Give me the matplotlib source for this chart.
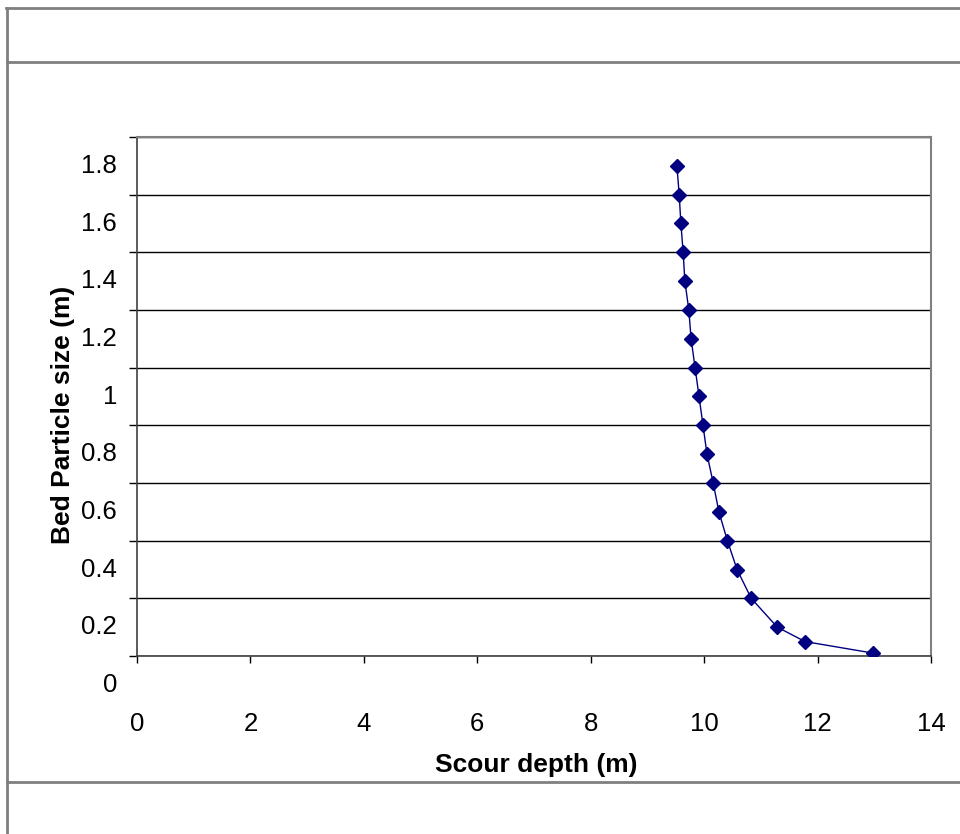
import matplotlib
matplotlib.use('Agg')

import matplotlib.pyplot as plt
from matplotlib.lines import Line2D
from matplotlib.transforms import ScaledTranslation, blended_transform_factory

# --- data ---
bed_particle_size = [1.7, 1.6, 1.5, 1.4, 1.3, 1.2, 1.1, 1.0, 0.9, 0.8,
                     0.7, 0.6, 0.5, 0.4, 0.3, 0.2, 0.1, 0.05, 0.01]
scour_depth = [9.52, 9.56, 9.59, 9.63, 9.66, 9.73, 9.77, 9.84, 9.91, 9.98,
               10.05, 10.16, 10.26, 10.41, 10.58, 10.83, 11.29, 11.78, 12.98]
x_ticks = [0, 2, 4, 6, 8, 10, 12, 14]
y_ticks = [0, 0.2, 0.4, 0.6, 0.8, 1.0, 1.2, 1.4, 1.6, 1.8]
y_tick_labels = ['0', '0.2', '0.4', '0.6', '0.8', '1', '1.2', '1.4', '1.6', '1.8']

plt.rcParams['font.family'] = ['Liberation Sans', 'DejaVu Sans']

W, H = 960, 834
fig = plt.figure(figsize=(W / 100, H / 100), dpi=100)

# outer chart frame (Excel style)
frame = '#808080'
for x0, y0, x1, y1 in [(6, 8, 960, 8), (7, 62, 960, 62), (7, 782, 960, 782), (7, 8, 7, 834)]:
    fig.add_artist(Line2D([x0 / W, x1 / W], [1 - y0 / H, 1 - y1 / H],
                          color=frame, lw=2, transform=fig.transFigure))

ax = fig.add_axes([137 / W, 1 - 656 / H, 794 / W, 519 / H])

ax.plot(scour_depth, bed_particle_size, color='#000080', lw=1,
        marker='D', markersize=7, markerfacecolor='#000080',
        markeredgecolor='#000080', zorder=3)

ax.set_xlim(0, 14)
ax.set_ylim(0, 1.8)
ax.set_xticks(x_ticks)
ax.set_xticklabels([str(t) for t in x_ticks])
ax.set_yticks(y_ticks)
ax.set_yticklabels([])

ax.grid(axis='y', color='black', lw=1)
ax.set_axisbelow(True)

for side in ['top', 'right']:
    ax.spines[side].set_color('#808080')
    ax.spines[side].set_linewidth(1.5)
for side in ['left', 'bottom']:
    ax.spines[side].set_color('#404040')
    ax.spines[side].set_linewidth(1.2)

ax.tick_params(axis='x', direction='out', length=5, width=1, pad=35,
               labelsize=18.5, colors='black')
ax.tick_params(axis='y', direction='out', length=6, width=1, labelsize=18.5)

# y tick labels sit half a step below their gridlines in the reference
trans = blended_transform_factory(ax.transAxes, ax.transData) + \
    ScaledTranslation(-0.20, -0.29, fig.dpi_scale_trans)
for v, lab in zip(y_ticks, y_tick_labels):
    ax.text(0, v, lab, transform=trans, ha='right', va='center',
            fontsize=18.5, clip_on=False)

fig.text(536 / W, 1 - 765 / H, 'Scour depth (m)', ha='center', va='center',
         fontsize=19, fontweight='bold')
fig.text(63 / W, 1 - 415 / H, 'Bed Particle size (m)', ha='center', va='center',
         rotation=90, fontsize=19, fontweight='bold')

fig.savefig('out.png', dpi=100)
